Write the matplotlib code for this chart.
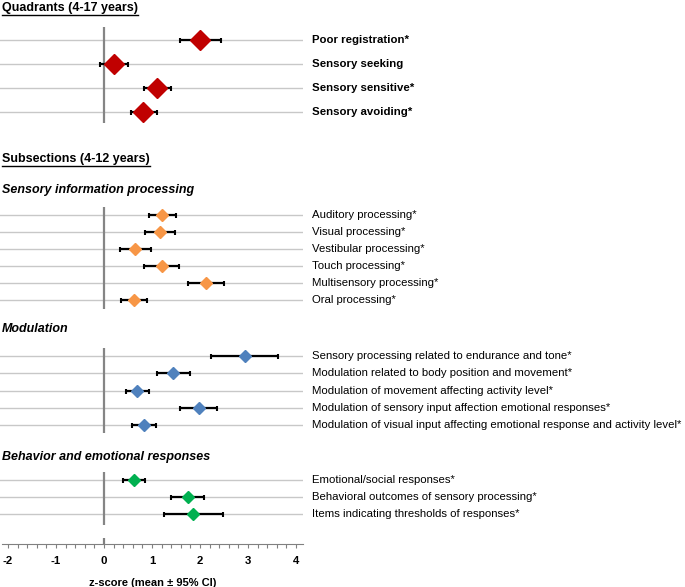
import matplotlib
matplotlib.use('Agg')
import matplotlib.pyplot as plt
from matplotlib.lines import Line2D
import numpy as np

plt.rcParams['font.family'] = ['Liberation Sans', 'DejaVu Sans']
plt.rcParams['axes.unicode_minus'] = False

# Quadrants (4-17 years)
quad_labels = ['Poor registration*', 'Sensory seeking', 'Sensory sensitive*', 'Sensory avoiding*']
quad_mean = [1.99, 0.21, 1.11, 0.82]
quad_low = [1.59, -0.08, 0.83, 0.56]
quad_high = [2.44, 0.50, 1.39, 1.10]

# Subsections (4-12 years): sensory information processing
sens_labels = ['Auditory processing*', 'Visual processing*', 'Vestibular processing*',
               'Touch processing*', 'Multisensory processing*', 'Oral processing*']
sens_mean = [1.21, 1.17, 0.64, 1.20, 2.13, 0.63]
sens_low = [0.94, 0.85, 0.33, 0.83, 1.76, 0.36]
sens_high = [1.49, 1.47, 0.97, 1.57, 2.50, 0.90]

# modulation
mod_labels = ['Sensory processing related to endurance and tone*',
              'Modulation related to body position and movement*',
              'Modulation of movement affecting activity level*',
              'Modulation of sensory input affection emotional responses*',
              'Modulation of visual input affecting emotional response and activity level*']
mod_mean = [2.93, 1.43, 0.69, 1.97, 0.83]
mod_low = [2.23, 1.10, 0.46, 1.59, 0.58]
mod_high = [3.63, 1.79, 0.94, 2.36, 1.08]

# behavior and emotional responses
beh_labels = ['Emotional/social responses*', 'Behavioral outcomes of sensory processing*',
              'Items indicating thresholds of responses*']
beh_mean = [0.62, 1.75, 1.86]
beh_low = [0.40, 1.39, 1.26]
beh_high = [0.85, 2.09, 2.47]

x_ticks = [-2, -1, 0, 1, 2, 3, 4]

W, H = 685, 587
XLIM = (-104 / 48, 199 / 48)
PLOT_W = 303


def panel(fig, top, row0, step, bottom, labels, mean, low, high, color, ms, bold):
    ax = fig.add_axes([0, 1 - bottom / H, PLOT_W / W, (bottom - top) / H])
    ax.set_xlim(XLIM)
    ax.set_ylim(bottom, top)
    ax.axis('off')
    rows = row0 + step * np.arange(len(labels))
    mean = np.array(mean)
    err = [mean - np.array(low), np.array(high) - mean]
    for r in rows:
        ax.axhline(r, color='#c8c8c8', lw=1, zorder=1)
    ax.axvline(0, color='#858585', lw=1.6, zorder=2)
    ax.errorbar(mean, rows, xerr=err, fmt='none', ecolor='black', elinewidth=1.6,
                capsize=1.8, capthick=1.5, zorder=3)
    ax.plot(mean, rows, 'D', color=color, ms=ms, mec=color, zorder=4)
    for r, lab in zip(rows, labels):
        fig.text(312 / W, 1 - r / H, lab, va='center', ha='left', fontsize=8.2,
                 fontweight='bold' if bold else 'normal')
    return ax


def header(fig, y, s, italic=False):
    t = fig.text(2 / W, 1 - y / H, s, va='center', ha='left', fontsize=9,
                 fontweight='bold', fontstyle='italic' if italic else 'normal')
    return t


def main():
    fig = plt.figure(figsize=(W / 100, H / 100), dpi=100)

    h1 = header(fig, 8, 'Quadrants (4-17 years)')
    h2 = header(fig, 159, 'Subsections (4-12 years)')
    header(fig, 190, 'Sensory information processing', italic=True)
    header(fig, 329, 'Modulation', italic=True)
    header(fig, 457, 'Behavior and emotional responses', italic=True)

    panel(fig, 27, 40, 24, 123, quad_labels, quad_mean, quad_low, quad_high, '#c00000', 10, True)
    panel(fig, 207, 215, 17, 309, sens_labels, sens_mean, sens_low, sens_high, '#f79646', 6.5, False)
    panel(fig, 348, 356, 17.3, 433, mod_labels, mod_mean, mod_low, mod_high, '#4f81bd', 6.5, False)
    panel(fig, 472, 480, 17, 525, beh_labels, beh_mean, beh_low, beh_high, '#00b050', 6.5, False)

    # bottom axis
    axb = fig.add_axes([2 / W, 1 - 544 / H, (PLOT_W - 2) / W, 6 / H])
    axb.set_xlim(XLIM[0] + 2 / 48, XLIM[1])
    axb.patch.set_visible(False)
    for s in ['left', 'right', 'top']:
        axb.spines[s].set_visible(False)
    axb.spines['bottom'].set_color('#808080')
    axb.axvline(0, color='#808080', lw=1.6)
    axb.set_yticks([])
    axb.set_xticks(x_ticks)
    axb.set_xticks(np.arange(-2, 4.01, 0.2), minor=True)
    axb.tick_params(which='both', direction='out', length=3, color='#808080', width=0.8)
    axb.tick_params(which='major', labelsize=8.2, pad=6)
    for lab in axb.get_xticklabels():
        lab.set_fontweight('bold')
    axb.set_xlabel('z-score (mean \u00b1 95% CI)', fontweight='bold', fontsize=8, labelpad=8)

    # underline the two section headers
    fig.canvas.draw()
    r = fig.canvas.get_renderer()
    for t in (h1, h2):
        bb = t.get_window_extent(r)
        fig.add_artist(Line2D([bb.x0 / W, bb.x1 / W], [(bb.y0 - 0.5) / H] * 2,
                              transform=fig.transFigure, color='black', lw=1))

    plt.savefig('out.png', dpi=100)


if __name__ == "__main__":
    main()
